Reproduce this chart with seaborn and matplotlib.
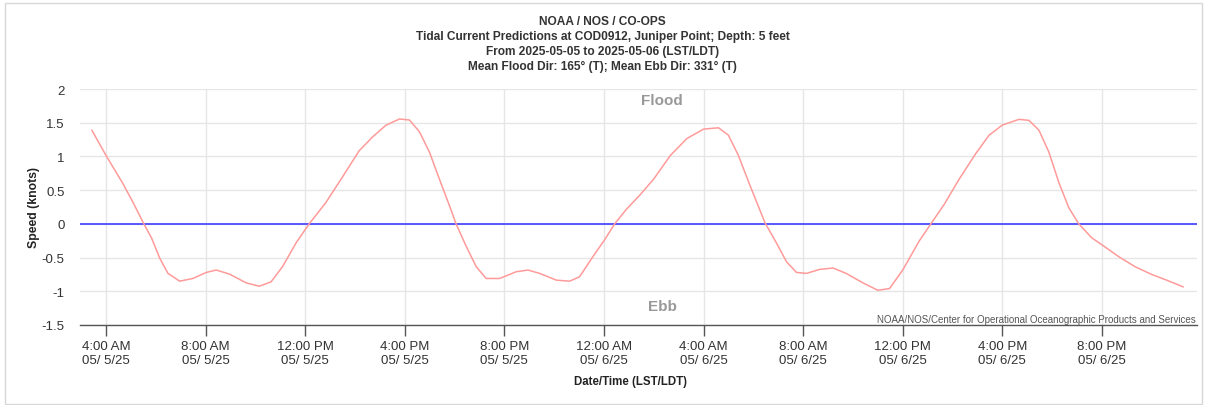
import numpy as np
import pandas as pd
import matplotlib
matplotlib.use("Agg")
import matplotlib.pyplot as plt
import seaborn as sns
from matplotlib.patches import Rectangle

# hours after 2025-05-05 00:00 (LST/LDT) and predicted speed in knots
hours = [3.43, 4.0, 4.69, 5.09, 5.52, 5.83, 6.16, 6.49, 6.96, 7.49, 8.03, 8.43,
         8.96, 9.63, 10.16, 10.63, 11.09, 11.63, 12.16, 12.83, 13.49, 14.16,
         14.71, 15.25, 15.79, 16.19, 16.59, 16.99, 17.39, 17.8, 18.06, 18.47,
         18.87, 19.27, 19.81, 20.48, 20.95, 21.42, 22.09, 22.62, 23.02, 23.56,
         24.03, 24.43, 24.9, 25.45, 26.0, 26.67, 27.33, 28.0, 28.6, 29.0,
         29.4, 29.87, 30.47, 30.93, 31.33, 31.73, 32.13, 32.67, 33.2, 33.73,
         34.4, 35.0, 35.47, 36.0, 36.67, 37.13, 37.67, 38.27, 38.93, 39.47,
         40.0, 40.67, 41.07, 41.47, 41.87, 42.27, 42.67, 43.07, 43.6, 44.0,
         44.67, 45.33, 46.0, 46.67, 47.27]
speed = [1.39, 1.015, 0.59, 0.315, 0.0, -0.21, -0.51, -0.735, -0.85, -0.81, -0.72, -0.685,
         -0.745, -0.875, -0.925, -0.86, -0.635, -0.285, 0.0, 0.315, 0.69, 1.08,
         1.29, 1.465, 1.555, 1.54, 1.365, 1.065, 0.665, 0.265, 0.0, -0.335,
         -0.635, -0.81, -0.81, -0.71, -0.685, -0.735, -0.835, -0.85, -0.785, -0.485,
         -0.235, 0.0, 0.215, 0.43, 0.665, 1.015, 1.265, 1.405, 1.425, 1.315,
         1.015, 0.565, 0.015, -0.285, -0.56, -0.72, -0.735, -0.675, -0.655, -0.735,
         -0.875, -0.985, -0.96, -0.685, -0.25, 0.0, 0.29, 0.665, 1.04, 1.315,
         1.465, 1.55, 1.535, 1.39, 1.065, 0.615, 0.24, 0.0, -0.21, -0.31,
         -0.485, -0.635, -0.75, -0.845, -0.935]

tick_hours = [4, 8, 12, 16, 20, 24, 28, 32, 36, 40, 44]
tick_labels = ["4:00 AM\n05/ 5/25", "8:00 AM\n05/ 5/25", "12:00 PM\n05/ 5/25",
               "4:00 PM\n05/ 5/25", "8:00 PM\n05/ 5/25", "12:00 AM\n05/ 6/25",
               "4:00 AM\n05/ 6/25", "8:00 AM\n05/ 6/25", "12:00 PM\n05/ 6/25",
               "4:00 PM\n05/ 6/25", "8:00 PM\n05/ 6/25"]
y_ticks = [-1.5, -1, -0.5, 0, 0.5, 1, 1.5, 2]
y_labels = ["-1.5", "-1", "-0.5", "0", "0.5", "1", "1.5", "2"]

title_lines = ["NOAA / NOS / CO-OPS",
               "Tidal Current Predictions at COD0912, Juniper Point; Depth: 5 feet",
               "From 2025-05-05 to 2025-05-06 (LST/LDT)",
               "Mean Flood Dir: 165° (T); Mean Ebb Dir: 331° (T)"]

sns.set_theme(style="white")
plt.rcParams['font.family'] = ['Liberation Sans', 'DejaVu Sans']

df = pd.DataFrame({"hour": hours, "speed": speed})

fig = plt.figure(figsize=(12.05, 4.06), dpi=100)
fig.patch.set_facecolor("white")
# light panel border around the whole chart
fig.patches.append(Rectangle((5 / 1205, 0.002), 1197 / 1205, 1 - 5 / 406,
                             transform=fig.transFigure, fill=False,
                             edgecolor="#d8d8d8", linewidth=1))

ax = fig.add_axes([80 / 1205, 1 - 326 / 406, 1117 / 1205, 236 / 406])
ax.set_facecolor("white")

ax.axhline(0, color="#4c4cff", linewidth=1.3, zorder=2)
sns.lineplot(data=df, x="hour", y="speed", ax=ax, color="#ff9a9a",
             linewidth=1.1, zorder=3)

ax.set_xlim(2.956, 47.82)
ax.set_ylim(-1.5, 2)
ax.set_xticks(tick_hours)
ax.set_xticklabels(tick_labels, fontsize=9.5, color="#333333")
ax.set_yticks(y_ticks)
ax.set_yticklabels(y_labels, fontsize=9.5, color="#333333")

ax.grid(True, color="#e6e6e6", linewidth=1)
ax.set_axisbelow(True)
for side in ["left", "right", "top"]:
    ax.spines[side].set_visible(False)
ax.spines["bottom"].set_color("#555555")
ax.spines["bottom"].set_linewidth(1)
ax.tick_params(axis="x", bottom=True, length=8, width=1, color="#555555", pad=3)
ax.tick_params(axis="y", left=False, length=0, pad=11)

ax.set_xlabel("")
ax.set_ylabel("Speed (knots)", fontsize=8.8, fontweight="bold", color="#222222")
ax.yaxis.set_label_coords(-40 / 1117, 0.5)
fig.text(631 / 1205, 1 - 382 / 406, "Date/Time (LST/LDT)", fontsize=8.3,
         fontweight="bold", color="#222222", ha="center", va="center")

for i, line in enumerate(title_lines):
    fig.text(0.5, 1 - (22 + 15 * i) / 406, line, fontsize=8.6, fontweight="bold",
             color="#333333", ha="center", va="center")

fig.text(662 / 1205, 1 - 101 / 406, "Flood", fontsize=11, fontweight="bold",
         color="#999999", ha="center", va="center")
fig.text(662 / 1205, 1 - 307 / 406, "Ebb", fontsize=11, fontweight="bold",
         color="#999999", ha="center", va="center")
fig.text(1196 / 1205, 1 - 320 / 406,
         "NOAA/NOS/Center for Operational Oceanographic Products and Services",
         fontsize=7, color="#555555", ha="right", va="center")

fig.savefig("out.png", dpi=100)
